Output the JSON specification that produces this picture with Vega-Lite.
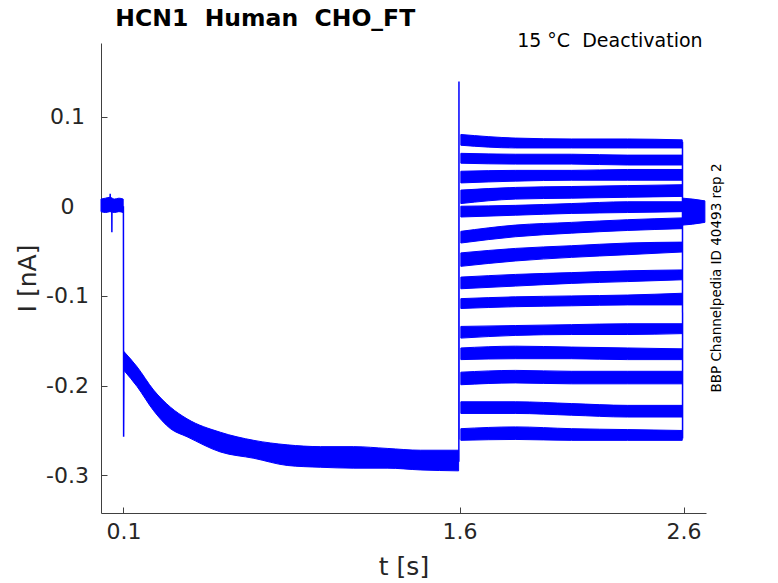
{
  "$schema": "https://vega.github.io/schema/vega-lite/v6.json",
  "autosize": {"type": "none"},
  "width": 605,
  "height": 470,
  "padding": {"left": 101, "top": 43, "right": 72, "bottom": 70},
  "background": "white",
  "datasets": {
    "bands": [
      {"s": "pre", "t": 0.0, "hi": 0.008, "lo": -0.006},
      {"s": "pre", "t": 0.02, "hi": 0.009, "lo": -0.007},
      {"s": "pre", "t": 0.04, "hi": 0.010, "lo": -0.006},
      {"s": "pre", "t": 0.06, "hi": 0.008, "lo": -0.007},
      {"s": "pre", "t": 0.08, "hi": 0.009, "lo": -0.006},
      {"s": "pre", "t": 0.099, "hi": 0.008, "lo": -0.007},
      {"s": "dec", "t": 0.1025, "hi": -0.162, "lo": -0.183},
      {"s": "dec", "t": 0.161, "hi": -0.179, "lo": -0.201},
      {"s": "dec", "t": 0.235, "hi": -0.205, "lo": -0.228},
      {"s": "dec", "t": 0.31, "hi": -0.224, "lo": -0.248},
      {"s": "dec", "t": 0.384, "hi": -0.237, "lo": -0.257},
      {"s": "dec", "t": 0.533, "hi": -0.252, "lo": -0.274},
      {"s": "dec", "t": 0.682, "hi": -0.261, "lo": -0.281},
      {"s": "dec", "t": 0.831, "hi": -0.266, "lo": -0.289},
      {"s": "dec", "t": 0.979, "hi": -0.268, "lo": -0.291},
      {"s": "dec", "t": 1.128, "hi": -0.268, "lo": -0.292},
      {"s": "dec", "t": 1.277, "hi": -0.270, "lo": -0.292},
      {"s": "dec", "t": 1.426, "hi": -0.272, "lo": -0.294},
      {"s": "dec", "t": 1.596, "hi": -0.272, "lo": -0.295},
      {"s": "t1", "t": 1.606, "hi": 0.080, "lo": 0.068},
      {"s": "t1", "t": 1.85, "hi": 0.076, "lo": 0.065},
      {"s": "t1", "t": 2.1, "hi": 0.075, "lo": 0.065},
      {"s": "t1", "t": 2.35, "hi": 0.075, "lo": 0.065},
      {"s": "t1", "t": 2.594, "hi": 0.074, "lo": 0.065},
      {"s": "t2", "t": 1.606, "hi": 0.059, "lo": 0.048},
      {"s": "t2", "t": 1.85, "hi": 0.058, "lo": 0.047},
      {"s": "t2", "t": 2.1, "hi": 0.058, "lo": 0.047},
      {"s": "t2", "t": 2.35, "hi": 0.057, "lo": 0.046},
      {"s": "t2", "t": 2.594, "hi": 0.057, "lo": 0.046},
      {"s": "t3", "t": 1.606, "hi": 0.039, "lo": 0.026},
      {"s": "t3", "t": 1.85, "hi": 0.040, "lo": 0.028},
      {"s": "t3", "t": 2.1, "hi": 0.040, "lo": 0.029},
      {"s": "t3", "t": 2.35, "hi": 0.041, "lo": 0.029},
      {"s": "t3", "t": 2.594, "hi": 0.041, "lo": 0.029},
      {"s": "t4", "t": 1.606, "hi": 0.018, "lo": 0.003},
      {"s": "t4", "t": 1.85, "hi": 0.021, "lo": 0.008},
      {"s": "t4", "t": 2.1, "hi": 0.022, "lo": 0.009},
      {"s": "t4", "t": 2.35, "hi": 0.023, "lo": 0.010},
      {"s": "t4", "t": 2.594, "hi": 0.024, "lo": 0.011},
      {"s": "t5", "t": 1.606, "hi": 0.000, "lo": -0.012},
      {"s": "t5", "t": 1.85, "hi": 0.001, "lo": -0.010},
      {"s": "t5", "t": 2.1, "hi": 0.003, "lo": -0.008},
      {"s": "t5", "t": 2.35, "hi": 0.005, "lo": -0.007},
      {"s": "t5", "t": 2.594, "hi": 0.005, "lo": -0.006},
      {"s": "t6", "t": 1.606, "hi": -0.028, "lo": -0.041},
      {"s": "t6", "t": 1.85, "hi": -0.021, "lo": -0.034},
      {"s": "t6", "t": 2.1, "hi": -0.018, "lo": -0.030},
      {"s": "t6", "t": 2.35, "hi": -0.015, "lo": -0.027},
      {"s": "t6", "t": 2.594, "hi": -0.013, "lo": -0.025},
      {"s": "t7", "t": 1.606, "hi": -0.052, "lo": -0.067},
      {"s": "t7", "t": 1.85, "hi": -0.047, "lo": -0.061},
      {"s": "t7", "t": 2.1, "hi": -0.044, "lo": -0.057},
      {"s": "t7", "t": 2.35, "hi": -0.041, "lo": -0.054},
      {"s": "t7", "t": 2.594, "hi": -0.040, "lo": -0.051},
      {"s": "t8", "t": 1.606, "hi": -0.079, "lo": -0.092},
      {"s": "t8", "t": 1.85, "hi": -0.076, "lo": -0.089},
      {"s": "t8", "t": 2.1, "hi": -0.074, "lo": -0.086},
      {"s": "t8", "t": 2.35, "hi": -0.072, "lo": -0.084},
      {"s": "t8", "t": 2.594, "hi": -0.071, "lo": -0.082},
      {"s": "t9", "t": 1.606, "hi": -0.103, "lo": -0.114},
      {"s": "t9", "t": 1.85, "hi": -0.101, "lo": -0.112},
      {"s": "t9", "t": 2.1, "hi": -0.100, "lo": -0.111},
      {"s": "t9", "t": 2.35, "hi": -0.099, "lo": -0.110},
      {"s": "t9", "t": 2.594, "hi": -0.097, "lo": -0.110},
      {"s": "t10", "t": 1.606, "hi": -0.134, "lo": -0.147},
      {"s": "t10", "t": 1.85, "hi": -0.133, "lo": -0.144},
      {"s": "t10", "t": 2.1, "hi": -0.132, "lo": -0.143},
      {"s": "t10", "t": 2.35, "hi": -0.131, "lo": -0.143},
      {"s": "t10", "t": 2.594, "hi": -0.131, "lo": -0.142},
      {"s": "t11", "t": 1.606, "hi": -0.158, "lo": -0.171},
      {"s": "t11", "t": 1.85, "hi": -0.156, "lo": -0.170},
      {"s": "t11", "t": 2.1, "hi": -0.157, "lo": -0.170},
      {"s": "t11", "t": 2.35, "hi": -0.158, "lo": -0.171},
      {"s": "t11", "t": 2.594, "hi": -0.159, "lo": -0.171},
      {"s": "t12", "t": 1.606, "hi": -0.185, "lo": -0.199},
      {"s": "t12", "t": 1.85, "hi": -0.183, "lo": -0.197},
      {"s": "t12", "t": 2.1, "hi": -0.184, "lo": -0.198},
      {"s": "t12", "t": 2.35, "hi": -0.184, "lo": -0.198},
      {"s": "t12", "t": 2.594, "hi": -0.184, "lo": -0.198},
      {"s": "t13", "t": 1.606, "hi": -0.218, "lo": -0.231},
      {"s": "t13", "t": 1.85, "hi": -0.218, "lo": -0.231},
      {"s": "t13", "t": 2.1, "hi": -0.220, "lo": -0.233},
      {"s": "t13", "t": 2.35, "hi": -0.222, "lo": -0.235},
      {"s": "t13", "t": 2.594, "hi": -0.222, "lo": -0.235},
      {"s": "t14", "t": 1.606, "hi": -0.248, "lo": -0.261},
      {"s": "t14", "t": 1.85, "hi": -0.246, "lo": -0.260},
      {"s": "t14", "t": 2.1, "hi": -0.248, "lo": -0.261},
      {"s": "t14", "t": 2.35, "hi": -0.249, "lo": -0.261},
      {"s": "t14", "t": 2.594, "hi": -0.250, "lo": -0.261},
      {"s": "post", "t": 2.597, "hi": 0.009, "lo": -0.021},
      {"s": "post", "t": 2.64, "hi": 0.008, "lo": -0.020},
      {"s": "post", "t": 2.695, "hi": 0.006, "lo": -0.018}
    ],
    "spikes": [
      {"s": "a", "o": 1, "t": 0.040, "hi": 0.002},
      {"s": "a", "o": 2, "t": 0.041, "hi": 0.014},
      {"s": "a", "o": 3, "t": 0.042, "hi": 0.0},
      {"s": "b", "o": 1, "t": 0.048, "hi": 0.002},
      {"s": "b", "o": 2, "t": 0.0485, "hi": -0.029},
      {"s": "b", "o": 3, "t": 0.049, "hi": 0.0},
      {"s": "c", "o": 1, "t": 0.1, "hi": 0.0},
      {"s": "c", "o": 2, "t": 0.101, "hi": -0.257},
      {"s": "c", "o": 3, "t": 0.1025, "hi": -0.165},
      {"s": "d", "o": 1, "t": 1.597, "hi": -0.285},
      {"s": "d", "o": 2, "t": 1.5975, "hi": 0.139},
      {"s": "d", "o": 3, "t": 1.598, "hi": -0.26},
      {"s": "e", "o": 1, "t": 2.595, "hi": 0.072},
      {"s": "e", "o": 2, "t": 2.5955, "hi": -0.259}
    ]
  },
  "encoding": {
    "x": {
      "field": "t",
      "type": "quantitative",
      "scale": {"domain": [0, 2.7], "nice": false, "zero": false},
      "axis": {
        "title": "t [s]",
        "values": [0.1, 1.6, 2.6],
        "labelExpr": "'' + datum.value",
        "grid": false,
        "tickSize": -6,
        "labelPadding": 14,
        "titlePadding": 12
      }
    },
    "y": {
      "field": "hi",
      "type": "quantitative",
      "scale": {"domain": [-0.342, 0.182], "nice": false, "zero": false},
      "axis": {
        "title": "I [nA]",
        "values": [-0.3, -0.2, -0.1, 0, 0.1],
        "labelExpr": "'' + datum.value",
        "grid": false,
        "tickSize": -6,
        "labelAlign": "center",
        "labelPadding": 40,
        "titlePadding": 5
      }
    }
  },
  "layer": [
    {
      "data": {"name": "bands"},
      "mark": {"type": "area", "interpolate": "monotone", "color": "#0000ff", "opacity": 1, "stroke": "#0000ff", "strokeWidth": 1},
      "encoding": {
        "y2": {"field": "lo"},
        "detail": {"field": "s", "type": "nominal"}
      }
    },
    {
      "data": {"name": "spikes"},
      "mark": {"type": "line", "color": "#0000ff", "strokeWidth": 1.5},
      "encoding": {
        "detail": {"field": "s", "type": "nominal"},
        "order": {"field": "o", "type": "quantitative"}
      }
    },
    {
      "data": {"values": [{"t": 0.064, "hi": 0.2004, "label": "HCN1\u00a0 Human\u00a0 CHO_FT"}]},
      "mark": {"type": "text", "align": "left", "baseline": "alphabetic", "fontSize": 23.5, "fontWeight": "bold", "font": "DejaVu Sans", "color": "black"},
      "encoding": {"text": {"field": "label"}}
    },
    {
      "data": {"values": [{"t": 2.685, "hi": 0.1775, "label": "15 °C\u00a0 Deactivation"}]},
      "mark": {"type": "text", "align": "right", "baseline": "alphabetic", "fontSize": 19, "font": "DejaVu Sans", "color": "black"},
      "encoding": {"text": {"field": "label"}}
    },
    {
      "data": {"values": [{"t": 2.747, "hi": -0.08, "label": "BBP Channelpedia ID 40493 rep 2"}]},
      "mark": {"type": "text", "angle": 270, "align": "center", "baseline": "middle", "fontSize": 13.5, "font": "DejaVu Sans", "color": "black"},
      "encoding": {"text": {"field": "label"}}
    }
  ],
  "config": {
    "font": "DejaVu Sans",
    "view": {"stroke": null},
    "axis": {
      "domainColor": "#404040",
      "domainWidth": 1,
      "tickColor": "#404040",
      "tickWidth": 1,
      "labelFont": "DejaVu Sans",
      "labelFontSize": 22,
      "labelColor": "#262626",
      "titleFont": "DejaVu Sans",
      "titleFontSize": 25,
      "titleFontWeight": "normal",
      "titleColor": "#262626"
    }
  }
}
